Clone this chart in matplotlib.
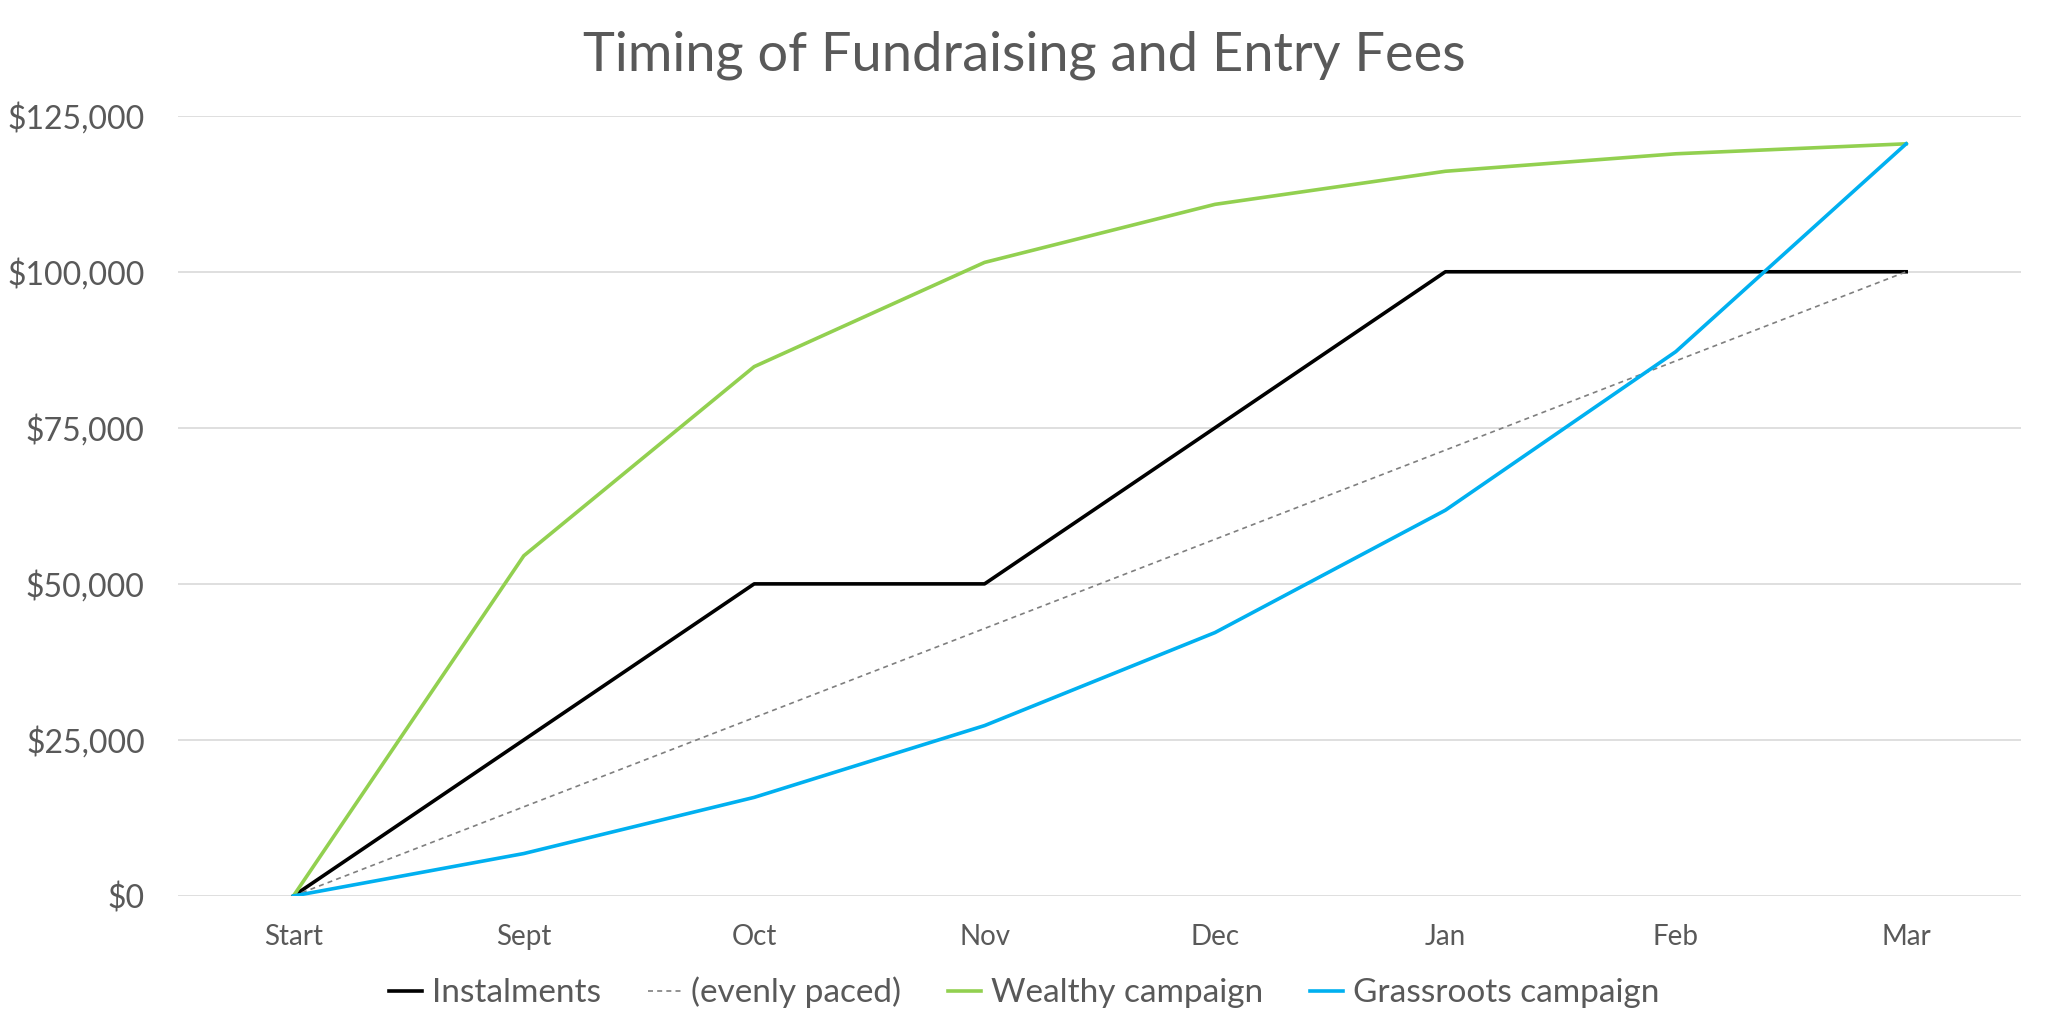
import matplotlib.pyplot as plt
from matplotlib.ticker import FuncFormatter

months = ['Start', 'Sept', 'Oct', 'Nov', 'Dec', 'Jan', 'Feb', 'Mar']

instalments = [0, 25000, 50000, 50000, 75000, 100000, 100000, 100000]
evenly_paced = [0, 14286, 28571, 42857, 57143, 71429, 85714, 100000]
wealthy = [0, 54500, 84800, 101500, 110800, 116100, 118900, 120500]
grassroots = [0, 6800, 15800, 27300, 42200, 61800, 87200, 120500]

plt.rcParams['font.family'] = ['Lato', 'DejaVu Sans']
text_color = '#595959'

fig = plt.figure(figsize=(20.48, 10.24), dpi=100)
ax = fig.add_axes([0.087, 0.125, 0.9, 0.762])

x = range(len(months))
ax.plot(x, instalments, color='black', lw=2.6, label='Instalments')
ax.plot(x, evenly_paced, color='#7f7f7f', lw=1.2, ls=(0, (3, 2.5)), label='(evenly paced)')
ax.plot(x, wealthy, color='#92D050', lw=2.6, label='Wealthy campaign')
ax.plot(x, grassroots, color='#00B0F0', lw=2.6, label='Grassroots campaign')

ax.set_xlim(-0.5, len(months) - 0.5)
ax.set_ylim(0, 125000)
ax.set_yticks(range(0, 125001, 25000))
ax.yaxis.set_major_formatter(FuncFormatter(lambda v, p: '${:,.0f}'.format(v)))
ax.set_xticks(list(x))
ax.set_xticklabels(months)
ax.grid(axis='y', color='#d9d9d9', lw=1.2)
ax.set_axisbelow(True)
for s in ax.spines.values():
    s.set_visible(False)
ax.tick_params(axis='y', length=0, labelsize=23, colors=text_color, pad=24)
ax.tick_params(axis='x', length=0, labelsize=20, colors=text_color, pad=20)

fig.suptitle('Timing of Fundraising and Entry Fees', y=0.97, fontsize=39, color=text_color)
fig.legend(loc='lower center', bbox_to_anchor=(0.5, -0.014), ncol=4, frameon=False,
           fontsize=24, labelcolor=text_color, handlelength=1.0, columnspacing=1.4,
           handletextpad=0.3)

fig.savefig('out.png')
